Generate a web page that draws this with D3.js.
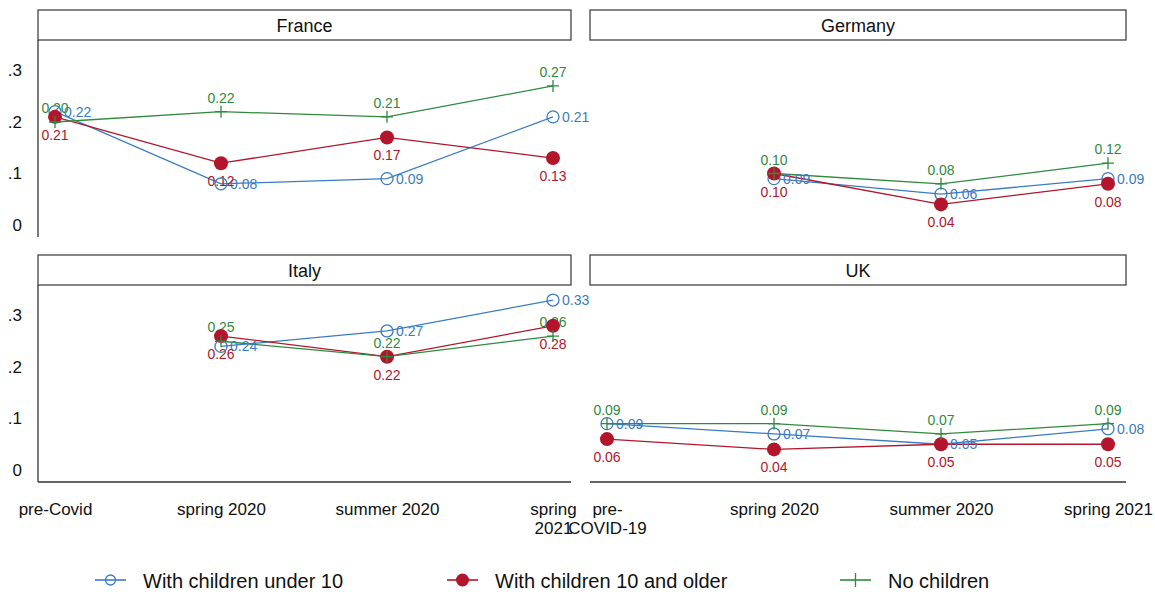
<!DOCTYPE html>
<html>
<head>
<meta charset="utf-8">
<script src="https://cdn.jsdelivr.net/npm/d3@7"></script>
<style>
  html, body { margin: 0; padding: 0; background: #fff; }
  svg { display: block; font-family: "Liberation Sans", Arial, sans-serif; }
</style>
</head>
<body>
<svg id="chart" width="1155" height="592"></svg>
<script>
// Survey waves
const periods = ["pre", "spring 2020", "summer 2020", "spring 2021"];
const italyTickLabels = ["pre-Covid", "spring 2020", "summer 2020", "spring\n2021"];
const ukTickLabels = ["pre-\nCOVID-19", "spring 2020", "summer 2020", "spring 2021"];
const yTicks = [0, 0.1, 0.2, 0.3];
const yTickLabels = ["0", ".1", ".2", ".3"];

// Shares by household type (null = wave not available)
const franceUnder10 = [0.22, 0.08, 0.09, 0.21];
const franceOlder   = [0.21, 0.12, 0.17, 0.13];
const franceNone    = [0.20, 0.22, 0.21, 0.27];
const germanyUnder10 = [null, 0.09, 0.06, 0.09];
const germanyOlder   = [null, 0.10, 0.04, 0.08];
const germanyNone    = [null, 0.10, 0.08, 0.12];
const italyUnder10 = [null, 0.24, 0.27, 0.33];
const italyOlder   = [null, 0.26, 0.22, 0.28];
const italyNone    = [null, 0.25, 0.22, 0.26];
const ukUnder10 = [0.09, 0.07, 0.05, 0.08];
const ukOlder   = [0.06, 0.04, 0.05, 0.05];
const ukNone    = [0.09, 0.09, 0.07, 0.09];

const seriesNames = ["With children under 10", "With children 10 and older", "No children"];
const colors = { under10: "#3a7cc4", older: "#b3162c", none: "#2f8a3e" };

const panels = [
  { name: "France",  x0: 38,  x1: 571,  top: 10,  leftAxis: true,  bottomAxis: false,
    under10: franceUnder10, older: franceOlder, none: franceNone },
  { name: "Germany", x0: 590, x1: 1126, top: 10,  leftAxis: false, bottomAxis: false,
    under10: germanyUnder10, older: germanyOlder, none: germanyNone },
  { name: "Italy",   x0: 38,  x1: 571,  top: 255, leftAxis: true,  bottomAxis: true,
    ticks: italyTickLabels, under10: italyUnder10, older: italyOlder, none: italyNone },
  { name: "UK",      x0: 590, x1: 1126, top: 255, leftAxis: false, bottomAxis: true,
    ticks: ukTickLabels, under10: ukUnder10, older: ukOlder, none: ukNone }
];

const svg = d3.select("#chart");
const headerH = 30;
const plotH = 197;
const axisColor = "#333";

panels.forEach(p => {
  const w = p.x1 - p.x0;
  const g = svg.append("g").attr("transform", `translate(${p.x0},${p.top})`);

  // Header strip
  g.append("rect").attr("x", 0).attr("y", 0).attr("width", w).attr("height", headerH)
    .attr("fill", "#fff").attr("stroke", "#444").attr("stroke-width", 1.3);
  g.append("text").attr("x", w / 2).attr("y", headerH / 2 + 6.5)
    .attr("text-anchor", "middle").attr("font-size", 18).attr("fill", "#111").text(p.name);

  const plot = g.append("g").attr("transform", `translate(0,${headerH})`);
  const x = d3.scalePoint().domain(periods).range([17, w - 18]);
  const y = d3.scaleLinear().domain([0, 0.3]).range([185, 30.5]);

  if (p.leftAxis) {
    const ya = plot.append("g").call(
      d3.axisLeft(y).tickValues(yTicks).tickSize(0).tickPadding(16)
        .tickFormat((d, i) => yTickLabels[i]));
    ya.select(".domain").remove();
    ya.selectAll("text").attr("font-size", 17).attr("fill", "#111")
      .attr("font-family", "Liberation Sans, Arial, sans-serif");
    plot.append("line").attr("x1", 0).attr("x2", 0).attr("y1", 0).attr("y2", plotH)
      .attr("stroke", axisColor).attr("stroke-width", 1.3);
  }

  if (p.bottomAxis) {
    plot.append("line").attr("x1", 0).attr("x2", w).attr("y1", plotH).attr("y2", plotH)
      .attr("stroke", axisColor).attr("stroke-width", 1.3);
    const xa = plot.append("g").attr("transform", `translate(0,${plotH})`)
      .call(d3.axisBottom(x).tickSize(0).tickPadding(21)
        .tickFormat((d, i) => p.ticks[i]));
    xa.select(".domain").remove();
    xa.selectAll("text").each(function (d, i) {
      const t = d3.select(this);
      const lines = p.ticks[i].split("\n");
      t.text(null).attr("font-size", 17).attr("fill", "#111")
        .attr("font-family", "Liberation Sans, Arial, sans-serif");
      lines.forEach((ln, k) => {
        t.append("tspan").attr("x", 0).attr("dy", k === 0 ? "0.71em" : "1.12em").text(ln);
      });
    });
  }

  const series = [
    { key: "under10", values: p.under10 },
    { key: "older",   values: p.older },
    { key: "none",    values: p.none }
  ];

  const line = d3.line()
    .defined(d => d.v !== null)
    .x(d => x(d.period)).y(d => y(d.v));

  series.forEach(s => {
    const pts = s.values.map((v, i) => ({ period: periods[i], v }));
    plot.append("path").datum(pts).attr("d", line)
      .attr("fill", "none").attr("stroke", colors[s.key]).attr("stroke-width", 1.3);
  });

  // Value labels: under 10 to the right, 10+ below, no children above
  series.forEach(s => {
    const pts = s.values.map((v, i) => ({ period: periods[i], v })).filter(d => d.v !== null);
    plot.selectAll(null).data(pts).enter().append("text")
      .attr("font-size", 14)
      .attr("fill", colors[s.key])
      .attr("text-anchor", s.key === "under10" ? "start" : "middle")
      .attr("x", d => x(d.period) + (s.key === "under10" ? 9 : 0))
      .attr("y", d => y(d.v) + (s.key === "under10" ? 5 : s.key === "older" ? 23 : -9))
      .text(d => d.v.toFixed(2));
  });

  // Markers
  series.forEach(s => {
    const pts = s.values.map((v, i) => ({ period: periods[i], v })).filter(d => d.v !== null);
    const mg = plot.selectAll(null).data(pts).enter().append("g")
      .attr("transform", d => `translate(${x(d.period)},${y(d.v)})`);
    if (s.key === "under10") {
      mg.append("circle").attr("r", 6).attr("fill", "none")
        .attr("stroke", colors.under10).attr("stroke-width", 1.3);
    } else if (s.key === "older") {
      mg.append("circle").attr("r", 7).attr("fill", colors.older);
    } else {
      mg.append("path").attr("d", "M-6,0H6M0,-6V6")
        .attr("stroke", colors.none).attr("stroke-width", 1.3);
    }
  });
});

// Legend
const legend = svg.append("g");
const legendItems = [
  { key: "under10", lx: 95,  text: seriesNames[0], tx: 143 },
  { key: "older",   lx: 447, text: seriesNames[1], tx: 495 },
  { key: "none",    lx: 840, text: seriesNames[2], tx: 888 }
];
const ly = 580;
legendItems.forEach(it => {
  const c = colors[it.key];
  legend.append("line").attr("x1", it.lx).attr("x2", it.lx + 31).attr("y1", ly).attr("y2", ly)
    .attr("stroke", c).attr("stroke-width", 1.6);
  const cx = it.lx + 15.5;
  if (it.key === "under10") {
    legend.append("circle").attr("cx", cx).attr("cy", ly).attr("r", 5)
      .attr("fill", "none").attr("stroke", c).attr("stroke-width", 1.3);
  } else if (it.key === "older") {
    legend.append("circle").attr("cx", cx).attr("cy", ly).attr("r", 6.5).attr("fill", c);
  } else {
    legend.append("path").attr("d", `M${cx},${ly - 7}V${ly + 7}`)
      .attr("stroke", c).attr("stroke-width", 1.3);
  }
  legend.append("text").attr("x", it.tx).attr("y", ly + 7.5).attr("font-size", 20)
    .attr("fill", "#111").text(it.text);
});
</script>
</body>
</html>
